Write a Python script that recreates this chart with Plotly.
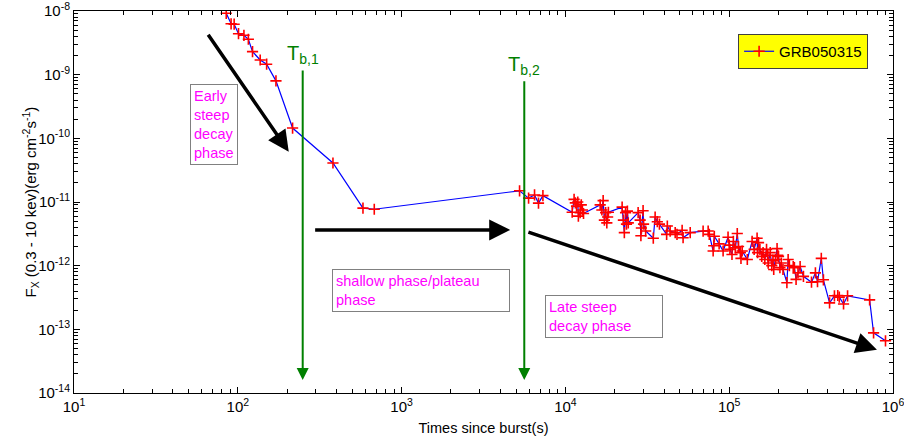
import math
import plotly.graph_objects as go

# ---- data (time since burst [s], flux [erg cm^-2 s^-1]) ----
time_s = [
    85, 91, 95, 101, 109, 116, 123, 137, 150, 171, 216, 381, 581, 681,
    5250, 5960, 6480, 6850, 7290,
    11000, 11300, 11500, 11700, 11900, 12000, 12300, 12500, 12700, 12900,
    16300, 16700, 17000, 17300, 17600, 17900, 18100, 18300,
    22200, 22600, 22900, 23300, 23600, 23900, 24200,
    27800, 28600, 28900, 29100, 29800, 30000, 30900,
    34400, 35300, 36400, 37500, 41500, 41900, 43600, 46800, 48000, 51600, 52300, 57800,
    69300, 74400, 75600, 79800, 80500, 81100, 86800, 91800, 98400,
    100000, 101000, 104000, 106000, 109000, 112000, 114000, 117000, 118000, 120000,
    129000, 138000, 142000, 148000, 149000, 151000, 154000, 158000, 161000, 165000,
    169000, 172000, 173000, 178000, 182000, 185000, 187000, 192000, 196000, 198000,
    200000, 204000, 208000, 213000, 225000, 229000, 233000, 246000, 250000, 256000,
    263000, 271000, 284000, 318000, 336000, 346000, 365000, 376000,
    410000, 439000, 460000, 470000, 499000, 528000, 720000, 761000, 900000,
]
flux = [
    9.2e-9, 6.3e-9, 6.2e-9, 4.4e-9, 4.15e-9, 3.6e-9, 2.3e-9, 1.7e-9, 1.46e-9, 8.0e-10,
    1.45e-10, 4.1e-11, 8.0e-12, 7.7e-12,
    1.5e-11, 1.15e-11, 1.29e-11, 9.6e-12, 1.26e-11,
    6.9e-12, 1.1e-11, 9.7e-12, 8.6e-12, 1.0e-11, 6.0e-12, 6.8e-12, 9.0e-12, 7.5e-12, 6.6e-12,
    9.0e-12, 7.5e-12, 1.05e-11, 5.2e-12, 6.8e-12, 4.7e-12, 5.8e-12, 6.9e-12,
    8.3e-12, 5.2e-12, 3.3e-12, 6.8e-12, 4.5e-12, 7.2e-12, 4.7e-12,
    6.8e-12, 5.2e-12, 2.95e-12, 3.9e-12, 7.3e-12, 4.5e-12, 3.5e-12,
    2.7e-12, 5.8e-12, 4.9e-12, 4.5e-12, 3.1e-12, 4.2e-12, 3.5e-12, 3.3e-12, 3.1e-12, 3.6e-12, 2.75e-12, 3.3e-12,
    3.5e-12, 3.5e-12, 3.1e-12, 1.7e-12, 2.05e-12, 2.9e-12, 2.2e-12, 1.7e-12, 2.8e-12,
    2.1e-12, 1.8e-12, 1.5e-12, 2.4e-12, 1.9e-12, 3.2e-12, 2.0e-12, 1.6e-12, 1.3e-12, 1.7e-12,
    1.25e-12, 2.4e-12, 1.8e-12, 2.7e-12, 1.6e-12, 2.3e-12, 1.8e-12, 1.4e-12, 1.6e-12, 1.25e-12,
    1.8e-12, 1.45e-12, 1.1e-12, 1.6e-12, 1.0e-12, 1.2e-12, 8.7e-13, 1.25e-12, 1.85e-12, 1.45e-12,
    1.4e-12, 9.3e-13, 1.1e-12, 8.7e-13, 5.4e-13, 1.25e-12, 1.0e-12, 9.7e-13, 9.3e-13, 6.1e-13,
    7.7e-13, 9.7e-13, 6.8e-13, 5.5e-13, 7.7e-13, 5.6e-13, 1.3e-12, 6.0e-13,
    2.6e-13, 3.36e-13, 3.4e-13, 3.2e-13, 2.5e-13, 3.36e-13, 2.9e-13, 8.8e-14, 6.6e-14,
]
series_name = "GRB050315"
x_tick_vals = [1e1, 1e2, 1e3, 1e4, 1e5, 1e6]
x_tick_text = ["10<sup>1</sup>", "10<sup>2</sup>", "10<sup>3</sup>",
               "10<sup>4</sup>", "10<sup>5</sup>", "10<sup>6</sup>"]
y_tick_vals = [1e-14, 1e-13, 1e-12, 1e-11, 1e-10, 1e-9, 1e-8]
y_tick_text = ["10<sup>-14</sup>", "10<sup>-13</sup>", "10<sup>-12</sup>", "10<sup>-11</sup>",
               "10<sup>-10</sup>", "10<sup>-9</sup>", "10<sup>-8</sup>"]
break_times = [249, 5610]          # T_b,1 and T_b,2
break_labels = ["T<sub>b,1</sub>", "T<sub>b,2</sub>"]
phase_texts = ["Early<br>steep<br>decay<br>phase",
               "shallow phase/plateau<br>phase",
               "Late steep<br>decay phase"]

FONT = "Liberation Sans, Arial, Helvetica, sans-serif"
W, H = 904, 442
L, R, T, B = 73.5, 893, 11, 393

def px(xp):  # pixel -> paper x
    return (xp - L) / (R - L)

def py(yp):  # pixel -> paper y
    return (B - yp) / (B - T)

x_minor = [m * 10 ** d for d in range(1, 6) for m in range(2, 10)]
y_minor = [m * 10.0 ** d for d in range(-14, -8) for m in range(2, 10)]

fig = go.Figure()
fig.add_trace(go.Scatter(
    x=time_s, y=flux, mode="lines+markers", name=series_name,
    line=dict(color="#0000ff", width=1.2),
    marker=dict(symbol="cross-thin", size=8, line=dict(color="#ff0000", width=1.6), color="#ff0000"),
))

ann = []
# green break-time arrows
tops = [1.23e-9, 8.3e-10]
label_y = [54, 66]
for bt, lab, top, ly in zip(break_times, break_labels, tops, label_y):
    ann.append(dict(x=math.log10(bt), y=math.log10(1.6e-14), xref="x", yref="y",
                    ax=math.log10(bt), ay=math.log10(top), axref="x", ayref="y",
                    showarrow=True, arrowhead=2, arrowsize=1.2, arrowwidth=2,
                    arrowcolor="#008000", text=""))
    ann.append(dict(x=math.log10(bt), y=py(ly), xref="x", yref="paper",
                    text=lab, showarrow=False, xanchor="center", yanchor="middle",
                    font=dict(family=FONT, size=20, color="#008000")))

# black phase arrows (log10 coordinates)
arrows = [((1.813, -8.350), (2.311, -10.209)),
          ((2.463, -11.438), (3.663, -11.438)),
          ((3.765, -11.465), (5.902, -13.322))]
for (x0, y0), (x1, y1) in arrows:
    ann.append(dict(x=x1, y=y1, ax=x0, ay=y0, xref="x", yref="y", axref="x", ayref="y",
                    showarrow=True, arrowhead=2, arrowsize=1.2, arrowwidth=3.5,
                    arrowcolor="#000000", text=""))

# phase text boxes (pixel positions of top-left corners, box widths)
boxes = [(190, 84, None, phase_texts[0]), (332, 269, 170, phase_texts[1]),
         (545, 295, 110, phase_texts[2])]
for bx, by, bw, txt in boxes:
    a = dict(x=px(bx), y=py(by), xref="paper", yref="paper", xanchor="left", yanchor="top",
             text=txt, showarrow=False, align="left",
             font=dict(family=FONT, size=14.5, color="#ff00ff"),
             bgcolor="#ffffff", bordercolor="#808080", borderwidth=1, borderpad=3)
    if bw:
        a["width"] = bw
    ann.append(a)

# y-axis title placed manually
ann.append(dict(x=px(29), y=0.5, xref="paper", yref="paper", xanchor="center", yanchor="middle",
                text="F<sub>X</sub> (0.3 - 10 kev)(erg cm<sup>-2</sup>s<sup>-1</sup>)",
                textangle=-90, showarrow=False, font=dict(family=FONT, size=15, color="#000000")))

fig.update_layout(
    width=W, height=H,
    margin=dict(l=L, r=W - R, t=T, b=H - B, autoexpand=False),
    paper_bgcolor="#ffffff", plot_bgcolor="#ffffff",
    font=dict(family=FONT, size=14, color="#000000"),
    showlegend=True,
    legend=dict(x=px(738), y=py(34), xanchor="left", yanchor="top",
                bgcolor="#ffff00", bordercolor="#404040", borderwidth=1,
                font=dict(family=FONT, size=15, color="#000000"),
                itemwidth=30, tracegroupgap=0),
    annotations=ann,
)
common = dict(
    showgrid=False, zeroline=False, showline=True, linecolor="#000000", linewidth=1,
    mirror="ticks", ticks="inside", ticklen=6, tickcolor="#000000", automargin=False,
    tickfont=dict(family=FONT, size=15), ticklabeloverflow="allow",
)
fig.update_xaxes(
    type="log", range=[1, 6], tickvals=x_tick_vals, ticktext=x_tick_text,
    minor=dict(ticks="inside", ticklen=4, tickcolor="#000000", showgrid=False, tickvals=x_minor),
    title=dict(text="Times since burst(s)", font=dict(family=FONT, size=14.5), standoff=8),
    **common,
)
fig.update_yaxes(
    type="log", range=[-14, -8], tickvals=y_tick_vals, ticktext=y_tick_text,
    minor=dict(ticks="inside", ticklen=4, tickcolor="#000000", showgrid=False, tickvals=y_minor),
    **common,
)

fig.write_html("out.html")
